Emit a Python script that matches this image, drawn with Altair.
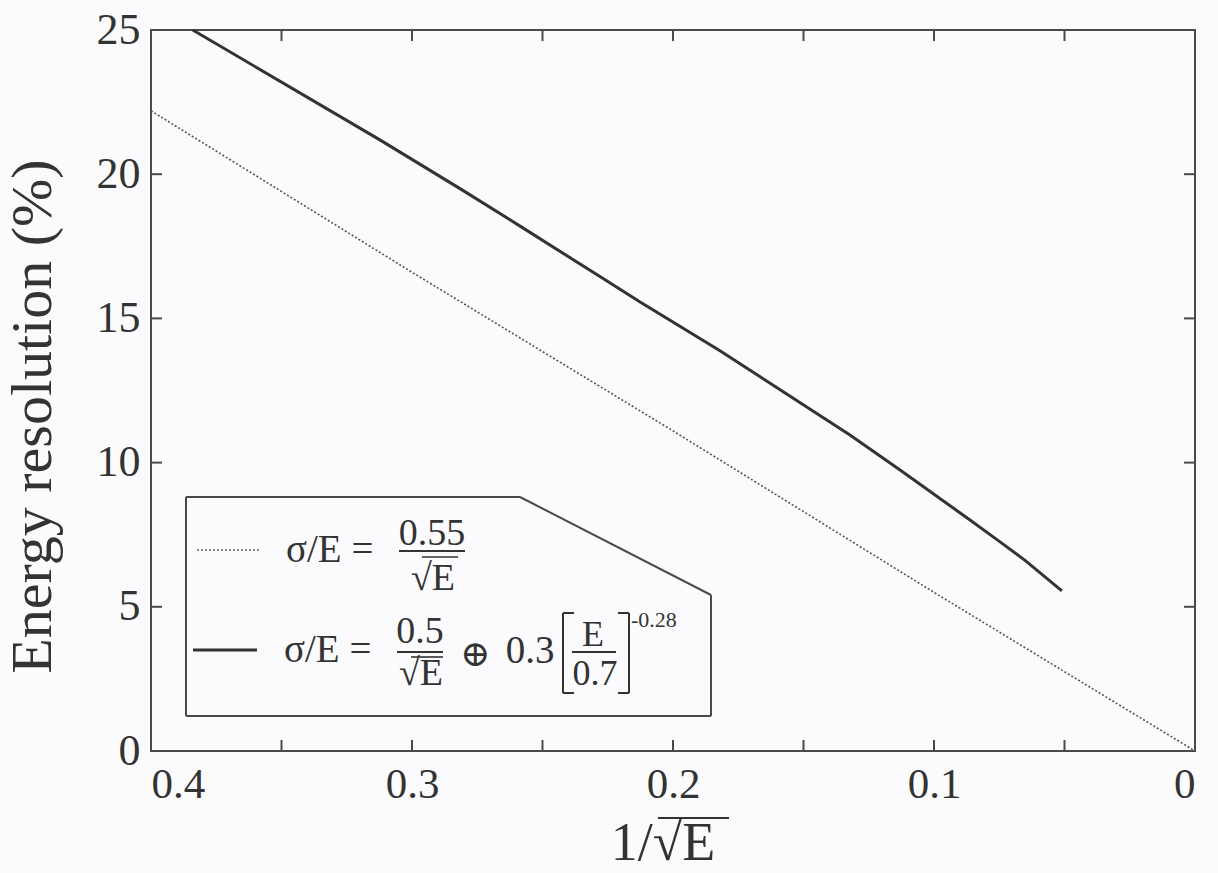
import altair as alt
import pandas as pd

# ---- data ----
solid_x = [0.384, 0.3123, 0.2816, 0.2586, 0.2280, 0.2126, 0.1820, 0.1628, 0.1322, 0.1130, 0.0862, 0.0747, 0.065, 0.0510]
solid_y = [25.0, 21.19, 19.50, 18.20, 16.45, 15.57, 13.88, 12.75, 10.96, 9.74, 8.01, 7.25, 6.60, 5.55]
dotted_x = [0.4, 0.3, 0.2, 0.1, 0.0]
dotted_y = [22.2, 16.6, 11.1, 5.5, 0.0]
x_ticks_major = [0.4, 0.3, 0.2, 0.1, 0.0]
x_ticks_minor = [0.35, 0.3, 0.25, 0.2, 0.15, 0.1, 0.05]
y_ticks = [0, 5, 10, 15, 20, 25]
y_inner_ticks = [5, 10, 15, 20]

W, H = 1044, 721
SERIF = "Liberation Serif, DejaVu Serif, serif"
INK = "#333333"
FRAME = "#4a4a4a"
BG = "#fbfbfd"

one = pd.DataFrame({"k": [0]})

xs = alt.Scale(domain=[0, 0.4], reverse=True, nice=False, zero=False)
ys = alt.Scale(domain=[0, 25], nice=False)

xaxis = alt.Axis(values=x_ticks_major, labelExpr="datum.value == 0 ? '0' : format(datum.value, '.1f')",
                 ticks=False, tickSize=0, domain=False, grid=False, title=None,
                 labelFont=SERIF, labelFontSize=43, labelColor=INK, labelPadding=12)
yaxis = alt.Axis(values=y_ticks, ticks=False, tickSize=0, domain=False, grid=False,
                 title="Energy resolution (%)", titleFont=SERIF, titleFontSize=58,
                 titleFontWeight="normal", titleColor=INK, titleX=-101, titleY=386,
                 titleAngle=270, titleAlign="center", titleBaseline="alphabetic",
                 labelFont=SERIF, labelFontSize=44, labelColor=INK, labelPadding=11)

df_solid = pd.DataFrame({"x": solid_x, "y": solid_y})
df_dot = pd.DataFrame({"x": dotted_x, "y": dotted_y})

solid = alt.Chart(df_solid).mark_line(color=INK, strokeWidth=3).encode(
    x=alt.X("x:Q", scale=xs, axis=xaxis), y=alt.Y("y:Q", scale=ys, axis=yaxis))
dotted = alt.Chart(df_dot).mark_line(color="#555555", strokeWidth=1.6, strokeDash=[2, 2]).encode(
    x=alt.X("x:Q", scale=xs, axis=xaxis), y=alt.Y("y:Q", scale=ys, axis=yaxis))

dfx = pd.DataFrame({"x": x_ticks_minor})
dfy = pd.DataFrame({"y": y_inner_ticks})
tick_style = dict(color=FRAME, strokeWidth=2)
tb = alt.Chart(dfx).mark_rule(**tick_style).encode(x=alt.X("x:Q", scale=xs, axis=xaxis), y=alt.value(H), y2=alt.value(H - 11))
tt = alt.Chart(dfx).mark_rule(**tick_style).encode(x=alt.X("x:Q", scale=xs, axis=xaxis), y=alt.value(0), y2=alt.value(11))
tl = alt.Chart(dfy).mark_rule(**tick_style).encode(y=alt.Y("y:Q", scale=ys, axis=yaxis), x=alt.value(0), x2=alt.value(11))
tr = alt.Chart(dfy).mark_rule(**tick_style).encode(y=alt.Y("y:Q", scale=ys, axis=yaxis), x=alt.value(W), x2=alt.value(W - 11))


def seg(x1, y1, x2, y2, w=2, color=FRAME, dash=None):
    kw = dict(strokeWidth=w, color=color)
    if dash:
        kw["strokeDash"] = dash
    return alt.Chart(one).mark_rule(**kw).encode(
        x=alt.value(x1), y=alt.value(y1), x2=alt.value(x2), y2=alt.value(y2))


def txt(s, x, y, size, align="center", baseline="alphabetic"):
    return alt.Chart(one).mark_text(text=s, font=SERIF, fontSize=size, align=align,
                                    baseline=baseline, color=INK).encode(
        x=alt.value(x), y=alt.value(y))


deco = [
    # legend frame
    seg(35, 467, 369, 467), seg(369, 467, 560, 565), seg(560, 565, 560, 686),
    seg(560, 686, 35, 686), seg(35, 686, 35, 467),
    # row 1
    seg(46, 520, 110, 520, w=1.5, color="#666666", dash=[2, 2]),
    txt("σ/E =", 135, 532, 39, align="left"),
    txt("0.55", 281, 515, 38),
    seg(248, 521, 314, 521, w=2, color=INK),
    txt("√E", 282, 560, 38),
    seg(271, 527, 307, 527, w=1.6, color=INK),
    # row 2
    seg(42, 620, 106, 620, w=3, color=INK),
    txt("σ/E =", 133, 632, 39, align="left"),
    txt("0.5", 269, 613, 38),
    seg(246, 622, 292, 622, w=2, color=INK),
    txt("√E", 270, 655, 38),
    seg(260, 627, 292, 627, w=1.6, color=INK),
    txt("⊕", 324, 636, 36),
    txt("0.3", 379, 633, 39),
    seg(412, 583, 412, 663, w=2, color=INK), seg(412, 583, 423, 583, w=2, color=INK),
    seg(412, 663, 423, 663, w=2, color=INK),
    txt("E", 442, 616, 36),
    seg(421, 622, 465, 622, w=2, color=INK),
    txt("0.7", 444, 655, 36),
    seg(478, 583, 478, 663, w=2, color=INK), seg(467, 583, 478, 583, w=2, color=INK),
    seg(467, 663, 478, 663, w=2, color=INK),
    txt("-0.28", 480, 597, 22, align="left"),
    # x axis title
    txt("1/√E", 512, 830, 54),
    seg(507, 788, 578, 788, w=2, color=INK),
]

chart = alt.layer(dotted, solid, tb, tt, tl, tr, *deco).properties(
    width=W, height=H, background=BG,
    autosize=alt.AutoSizeParams(type="none"),
    padding={"left": 151, "top": 30, "right": 23, "bottom": 122},
).configure_view(stroke=FRAME, strokeWidth=2)

chart.save("out.html", embed_options={"renderer": "svg", "actions": False})
